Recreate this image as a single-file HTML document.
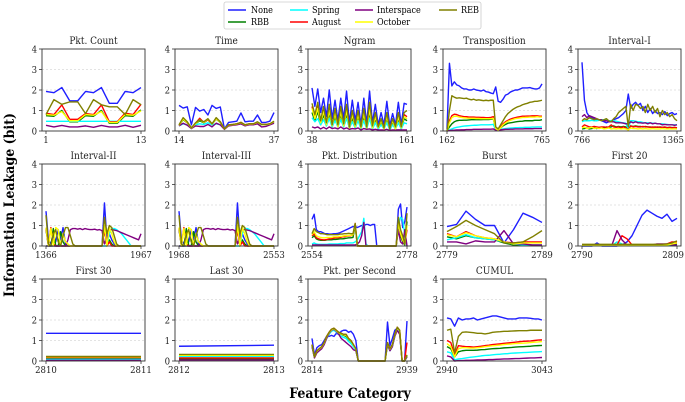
<!DOCTYPE html>
<html><head><meta charset="utf-8">
<style>
html,body{margin:0;padding:0;background:#fff;}
svg{display:block;font-family:"DejaVu Serif Condensed","DejaVu Serif","Liberation Serif",serif;}
</style></head>
<body>
<svg id="chart" width="685" height="402" viewBox="0 0 685 402" xmlns="http://www.w3.org/2000/svg">
  <g>
    <rect x="224" y="2" width="257" height="27" fill="#fff" stroke="#ccc" stroke-width="0.8" rx="2"/>
    <g><line x1="228" y1="10" x2="246" y2="10" stroke="#1f1fff" stroke-width="1.5"/><text x="251" y="13" font-size="9">None</text></g>
    <g><line x1="228" y1="22" x2="246" y2="22" stroke="#008000" stroke-width="1.5"/><text x="251" y="25" font-size="9">RBB</text></g>
    <g><line x1="290" y1="10" x2="308" y2="10" stroke="#00ffff" stroke-width="1.5"/><text x="312" y="13" font-size="9">Spring</text></g>
    <g><line x1="290" y1="22" x2="308" y2="22" stroke="#ff0000" stroke-width="1.5"/><text x="312" y="25" font-size="9">August</text></g>
    <g><line x1="355" y1="10" x2="373" y2="10" stroke="#800080" stroke-width="1.5"/><text x="377" y="13" font-size="9">Interspace</text></g>
    <g><line x1="355" y1="22" x2="373" y2="22" stroke="#ffff00" stroke-width="1.5"/><text x="377" y="25" font-size="9">October</text></g>
    <g><line x1="439" y1="10" x2="457" y2="10" stroke="#808000" stroke-width="1.5"/><text x="461" y="13" font-size="9">REB</text></g>
  </g>
  <text transform="translate(14,205) rotate(-90)" text-anchor="middle" font-size="14" font-weight="bold">Information Leakage (bit)</text>
  <text x="350" y="398" text-anchor="middle" font-size="14" font-weight="bold">Feature Category</text>
  <g id="panels"></g>
</svg>
<script>
const seriesNames = ["None","RBB","Spring","August","Interspace","October","REB"];
const seriesColors = ["#1f1fff","#008000","#00ffff","#ff0000","#800080","#ffff00","#808000"];
const panelTitles = ["Pkt. Count","Time","Ngram","Transposition","Interval-I","Interval-II","Interval-III","Pkt. Distribution","Burst","First 20","First 30","Last 30","Pkt. per Second","CUMUL"];
const panelXMin = [1,14,38,162,766,1366,1968,2554,2779,2790,2810,2812,2814,2940];
const panelXMax = [13,37,161,765,1365,1967,2553,2778,2789,2809,2811,2813,2939,3043];
const yTicks = [0,1,2,3,4];

const pktCount = {
 None:[1.93,1.87,2.12,1.47,1.47,1.93,1.87,2.12,1.35,1.35,1.93,1.87,2.12],
 RBB:[0.75,0.72,1.0,0.45,0.45,0.75,0.72,1.0,0.38,0.38,0.75,0.72,1.03],
 Spring:[0.47,0.47,0.47,0.47,0.47,0.47,0.47,0.47,0.47,0.47,0.47,0.47,0.47],
 August:[0.87,0.8,1.27,0.57,0.57,0.85,0.8,1.27,0.45,0.45,0.87,0.8,1.3],
 Interspace:[0.28,0.2,0.27,0.2,0.2,0.25,0.18,0.27,0.2,0.2,0.28,0.18,0.28],
 October:[0.8,0.77,0.95,0.5,0.5,0.8,0.77,0.95,0.42,0.42,0.8,0.77,0.98],
 REB:[0.8,1.53,1.3,1.42,1.42,0.85,1.53,1.28,1.18,1.18,0.8,1.53,1.28]};
const timeF = {
 None:[1.25,1.12,1.18,0.3,1.15,0.97,1.05,0.78,1.25,1.1,1.17,0.1,0.42,0.45,0.48,0.88,0.45,0.48,0.48,0.78,0.42,0.42,0.48,0.9],
 RBB:[0.28,0.55,0.4,0.13,0.35,0.5,0.4,0.55,0.33,0.58,0.42,0.1,0.28,0.3,0.33,0.4,0.28,0.33,0.33,0.42,0.3,0.3,0.33,0.45],
 Spring:[0.25,0.35,0.3,0.12,0.3,0.35,0.32,0.4,0.3,0.35,0.3,0.1,0.28,0.3,0.32,0.38,0.3,0.32,0.32,0.38,0.3,0.3,0.32,0.4],
 August:[0.28,0.6,0.4,0.15,0.38,0.62,0.42,0.55,0.35,0.6,0.45,0.1,0.3,0.32,0.35,0.42,0.3,0.35,0.35,0.42,0.32,0.32,0.35,0.45],
 Interspace:[0.25,0.38,0.28,0.12,0.25,0.22,0.22,0.32,0.2,0.38,0.3,0.08,0.25,0.28,0.3,0.35,0.25,0.3,0.3,0.35,0.2,0.22,0.3,0.38],
 October:[0.28,0.58,0.42,0.14,0.36,0.55,0.42,0.58,0.34,0.6,0.43,0.1,0.29,0.31,0.34,0.41,0.29,0.34,0.34,0.43,0.31,0.31,0.34,0.46],
 REB:[0.3,0.65,0.45,0.15,0.4,0.55,0.45,0.6,0.35,0.65,0.45,0.1,0.3,0.32,0.35,0.42,0.3,0.35,0.35,0.45,0.32,0.32,0.35,0.48]};
const ngram = {
 None:[2.1,1.2,2.05,0.9,1.6,0.7,2.0,0.6,1.5,0.5,1.6,0.6,1.95,0.4,1.5,0.5,1.4,0.3,1.6,0.35,1.95,0.4,1.3,0.3,0.9,0.3,1.45,0.25,0.85,0.3,1.4,0.3,1.35,1.3],
 RBB:[0.9,0.5,0.95,0.3,0.8,0.25,0.85,0.2,0.7,0.2,0.8,0.2,0.85,0.1,0.65,0.15,0.7,0.1,0.7,0.1,0.9,0.1,0.6,0.1,0.4,0.1,0.6,0.05,0.4,0.1,0.6,0.1,0.6,0.5],
 Spring:[0.65,0.45,0.6,0.3,0.55,0.25,0.6,0.2,0.5,0.2,0.55,0.2,0.6,0.15,0.45,0.15,0.5,0.1,0.5,0.1,0.6,0.1,0.4,0.1,0.3,0.1,0.4,0.05,0.3,0.1,0.4,0.1,0.4,0.35],
 August:[1.2,0.7,1.25,0.45,1.05,0.35,1.15,0.3,0.95,0.25,1.05,0.3,1.15,0.2,0.9,0.25,0.9,0.2,0.95,0.2,1.2,0.2,0.8,0.2,0.55,0.15,0.8,0.1,0.55,0.15,0.8,0.2,0.8,0.7],
 Interspace:[0.2,0.15,0.2,0.1,0.18,0.1,0.2,0.12,0.15,0.1,0.2,0.1,0.15,0.08,0.12,0.1,0.15,0.05,0.12,0.08,0.1,0.05,0.08,0.05,0.05,0.05,0.08,0.03,0.05,0.05,0.06,0.05,0.05,0.05],
 October:[1.1,0.6,1.1,0.4,0.95,0.3,1.0,0.25,0.85,0.2,0.95,0.25,1.0,0.15,0.8,0.2,0.8,0.15,0.85,0.15,1.05,0.15,0.7,0.15,0.5,0.1,0.7,0.1,0.5,0.1,0.7,0.15,0.7,0.6],
 REB:[1.35,0.8,1.4,0.5,1.2,0.4,1.3,0.3,1.1,0.3,1.2,0.35,1.3,0.2,1.0,0.3,1.0,0.2,1.1,0.2,1.4,0.25,0.9,0.2,0.6,0.15,0.9,0.1,0.6,0.2,0.9,0.2,0.9,1.0]};
const transposition = {
 None:[0.1,3.3,2.2,2.4,2.25,2.2,2.1,2.05,2.05,2.0,2.0,2.05,2.0,1.98,1.95,2.0,1.92,1.9,1.85,1.82,2.15,1.45,1.4,1.55,1.75,1.8,1.9,1.95,2.0,2.0,2.05,2.1,2.1,2.1,2.12,2.08,2.05,2.05,2.1,2.3],
 RBB:[0,0.2,0.35,0.45,0.5,0.52,0.52,0.53,0.53,0.54,0.55,0.55,0.55,0.55,0.55,0.56,0.56,0.56,0.57,0.6,0.1,0.05,0.15,0.25,0.32,0.38,0.4,0.42,0.44,0.46,0.47,0.48,0.5,0.5,0.5,0.5,0.52,0.52,0.52,0.55],
 Spring:[0,0.05,0.1,0.15,0.18,0.2,0.22,0.24,0.25,0.26,0.27,0.28,0.28,0.29,0.3,0.3,0.3,0.3,0.31,0.32,0.05,0.05,0.08,0.1,0.12,0.13,0.14,0.15,0.16,0.16,0.17,0.17,0.18,0.18,0.18,0.19,0.19,0.2,0.2,0.2],
 August:[0,0.5,0.75,0.82,0.8,0.75,0.72,0.7,0.7,0.68,0.68,0.68,0.67,0.67,0.66,0.66,0.65,0.65,0.66,0.7,0.15,0.05,0.2,0.35,0.45,0.52,0.58,0.62,0.65,0.68,0.7,0.72,0.72,0.73,0.73,0.74,0.74,0.74,0.72,0.72],
 Interspace:[0,0.02,0.03,0.04,0.05,0.05,0.06,0.06,0.07,0.07,0.07,0.08,0.08,0.08,0.08,0.09,0.09,0.09,0.09,0.1,0.05,0.05,0.06,0.07,0.08,0.08,0.09,0.09,0.1,0.1,0.1,0.1,0.11,0.11,0.11,0.11,0.12,0.12,0.12,0.12],
 October:[0,0.4,0.65,0.72,0.72,0.68,0.66,0.64,0.63,0.62,0.62,0.62,0.61,0.61,0.6,0.6,0.6,0.6,0.6,0.62,0.12,0.05,0.15,0.3,0.4,0.47,0.52,0.56,0.6,0.62,0.64,0.66,0.66,0.67,0.68,0.68,0.68,0.7,0.68,0.68],
 REB:[0,1.0,1.72,1.65,1.6,1.62,1.6,1.58,1.6,1.55,1.52,1.55,1.5,1.52,1.5,1.48,1.5,1.48,1.5,1.5,0.2,0.1,0.3,0.5,0.7,0.85,0.95,1.05,1.12,1.18,1.22,1.28,1.32,1.35,1.4,1.42,1.45,1.45,1.47,1.5]};
const intervalI = {
 None:[3.35,1.5,0.9,0.7,0.65,0.6,0.55,0.55,0.5,0.45,0.4,0.45,0.5,0.55,0.6,0.65,0.75,0.85,1.0,1.8,1.1,1.3,1.4,1.25,1.35,1.0,1.2,0.9,1.1,0.85,1.0,0.85,0.9,0.8,0.95,0.75,0.85,0.9,0.8,0.85],
 RBB:[0.1,0.12,0.15,0.1,0.12,0.15,0.12,0.15,0.18,0.15,0.2,0.18,0.2,0.25,0.2,0.22,0.2,0.22,0.2,0.05,0.25,0.22,0.25,0.22,0.22,0.2,0.22,0.2,0.2,0.18,0.2,0.18,0.2,0.18,0.18,0.17,0.18,0.17,0.17,0.16],
 Spring:[0.45,0.5,0.5,0.5,0.52,0.5,0.5,0.52,0.55,0.55,0.52,0.5,0.5,0.5,0.48,0.45,0.42,0.4,0.38,0.1,0.5,0.5,0.48,0.45,0.45,0.42,0.4,0.4,0.4,0.38,0.38,0.35,0.35,0.35,0.33,0.32,0.3,0.3,0.3,0.3],
 August:[0.2,0.3,0.25,0.2,0.2,0.22,0.2,0.18,0.2,0.2,0.18,0.2,0.3,0.2,0.18,0.2,0.15,0.2,0.15,0.05,0.25,0.2,0.22,0.2,0.2,0.22,0.2,0.2,0.18,0.2,0.18,0.2,0.18,0.18,0.2,0.15,0.18,0.15,0.18,0.15],
 Interspace:[0.7,0.8,0.65,0.75,0.7,0.65,0.6,0.55,0.55,0.5,0.5,0.45,0.45,0.45,0.4,0.4,0.4,0.38,0.35,0.35,0.45,0.4,0.45,0.4,0.4,0.38,0.4,0.35,0.4,0.35,0.38,0.35,0.35,0.3,0.32,0.3,0.3,0.3,0.28,0.3],
 October:[0.15,0.2,0.12,0.15,0.18,0.12,0.15,0.12,0.15,0.1,0.12,0.15,0.1,0.12,0.1,0.12,0.1,0.12,0.1,0.05,0.15,0.12,0.12,0.1,0.12,0.1,0.12,0.1,0.1,0.12,0.1,0.1,0.1,0.12,0.1,0.1,0.1,0.1,0.1,0.1],
 REB:[0.5,0.6,0.55,0.65,0.6,0.55,0.6,0.55,0.5,0.55,0.6,0.5,0.45,0.6,0.7,0.9,1.0,1.1,1.2,0.2,1.3,1.0,1.3,1.25,1.1,1.2,0.9,1.3,1.0,1.2,0.9,1.1,0.7,1.0,0.8,0.9,0.7,0.8,0.6,0.5]};
const intervalII = {
 None:[1.7,0.3,0.1,0.5,0.2,0.8,0.3,0.9,0.1,0,0,0,0,0,0,0,0,0,0,0,0,0,0,0,2.1,0.3,0.6,0.3,0.1,0,0,0,0,0,0,0,0,0,0,0],
 RBB:[0.8,0,0,0.85,0,0,0.7,0.2,0,0,0,0,0,0,0,0,0,0,0,0,0,0,0,0,0.9,0,0.3,0.1,0,0,0,0,0,0,0,0,0,0,0,0],
 Spring:[0,0,0,0,0,0,0,0,0,0,0,0,0,0,0,0,0,0,0,0,0,0,0,0,0,0,0.6,0.85,0.85,0.8,0.7,0.6,0.45,0.3,0.15,0,0,0,0,0],
 August:[0.85,0,0.9,0.1,0,0,0,0,0,0,0,0,0,0,0,0,0,0,0,0,0,0,0,0,0.8,0,0.2,0,0,0,0,0,0,0,0,0,0,0,0,0],
 Interspace:[0,0,0,0,0,0,0,0,0,0.3,0.8,0.85,0.85,0.82,0.85,0.8,0.85,0.82,0.8,0.8,0.82,0.78,0.8,0.75,0.1,0.4,0.8,0.8,0.78,0.75,0.7,0.65,0.6,0.55,0.5,0.45,0.4,0.35,0.3,0.6],
 October:[0.9,0,0.85,0,0.9,0.8,0,0.6,0.2,0.1,0,0,0,0,0,0,0,0,0,0,0,0,0,0,1.0,0,0.9,0.6,0.2,0,0,0,0,0,0,0,0,0,0,0],
 REB:[1.5,0.1,0,0.6,0.8,0.2,0,0.5,0.9,0.9,0.5,0.1,0,0,0,0,0,0,0,0,0,0,0,0,1.4,0.6,1.0,0.9,0.5,0.1,0,0,0,0,0,0,0,0,0,0]};
const intervalIII = {
 None:[1.7,0.3,0.1,0.5,0.2,0.8,0.3,0.9,0.1,0,0,0,0,0,0,0,0,0,0,0,0,0,0,0,2.1,0.3,0.6,0.3,0.1,0,0,0,0,0,0,0,0,0,0,0],
 RBB:[0.8,0,0,0.85,0,0,0.7,0.2,0,0,0,0,0,0,0,0,0,0,0,0,0,0,0,0,0.9,0,0.3,0.1,0,0,0,0,0,0,0,0,0,0,0,0],
 Spring:[0,0,0,0,0,0,0,0,0,0,0,0,0,0,0,0,0,0,0,0,0,0,0,0,0,0,0.6,0.85,0.85,0.8,0.7,0.6,0.45,0.3,0.15,0,0,0,0,0],
 August:[0.85,0,0.9,0.1,0,0,0,0,0,0,0,0,0,0,0,0,0,0,0,0,0,0,0,0,0.8,0,0.2,0,0,0,0,0,0,0,0,0,0,0,0,0],
 Interspace:[0,0,0,0,0,0,0,0,0,0.3,0.8,0.85,0.85,0.82,0.85,0.8,0.85,0.82,0.8,0.8,0.82,0.78,0.8,0.75,0.1,0.4,0.8,0.8,0.78,0.75,0.7,0.65,0.6,0.55,0.5,0.45,0.4,0.35,0.3,0.6],
 October:[0.9,0,0.85,0,0.9,0.8,0,0.6,0.2,0.1,0,0,0,0,0,0,0,0,0,0,0,0,0,0,1.0,0,0.9,0.6,0.2,0,0,0,0,0,0,0,0,0,0,0],
 REB:[1.5,0.1,0,0.6,0.8,0.2,0,0.5,0.9,0.9,0.5,0.1,0,0,0,0,0,0,0,0,0,0,0,0,1.4,0.6,1.0,0.9,0.5,0.1,0,0,0,0,0,0,0,0,0,0]};
const pktDist = {
 None:[1.3,1.55,0.8,0.7,0.7,0.65,0.6,0.6,0.58,0.58,0.6,0.6,0.62,0.65,0.7,0.75,0.8,0.85,0.9,0.95,0.95,0.9,0.95,1.0,1.0,1.05,1.05,1.0,1.05,1.05,0,0,0,0,0,0,0,0,0,0,1.8,2.05,0.9,1.2,1.9],
 RBB:[0.4,0.5,0.35,0.3,0.28,0.28,0.28,0.3,0.3,0.3,0.32,0.32,0.33,0.35,0.35,0.36,0.38,0.4,0.4,0.42,1.0,0,0,0,0,0,0,0,0,0,0,0,0,0,0,0,0,0,0,0,1.0,0.5,0.2,0.05,1.2],
 Spring:[0.1,0.15,0.1,0.08,0.08,0.08,0.08,0.08,0.1,0.1,0.1,0.1,0.1,0.12,0.12,0.12,0.15,0.15,0.15,0.15,0.2,0.3,0.5,0.7,1.35,0.1,0,0,0,0,0,0,0,0,0,0,0,0,0,0,1.0,1.4,1.3,0.5,0],
 August:[0.5,0.6,0.4,0.35,0.32,0.3,0.3,0.32,0.35,0.35,0.38,0.4,0.4,0.42,0.45,0.45,0.48,0.5,0.5,0.55,1.1,0,0,0,0,0,0,0,0,0,0,0,0,0,0,0,0,0,0,0,1.2,0.6,0.3,0.1,0.8],
 Interspace:[0.05,0.05,0.05,0.05,0.05,0.05,0.05,0.05,0.05,0.05,0.05,0.05,0.05,0.05,0.05,0.05,0.05,0.05,0.05,0.05,0.05,0.1,0.2,0.5,1.15,0,0,0,0,0,0,0,0,0,0,0,0,0,0,0,0.8,0.2,0.1,0.8,0],
 October:[0.55,0.7,0.5,0.45,0.42,0.4,0.4,0.42,0.42,0.42,0.45,0.45,0.45,0.47,0.48,0.5,0.5,0.52,0.52,0.55,1.05,0,0,0,0,0,0,0,0,0,0,0,0,0,0,0,0,0,0,0,1.1,0.6,0.3,0.1,1.0],
 REB:[0.6,0.85,0.7,0.65,0.6,0.6,0.58,0.55,0.55,0.55,0.55,0.55,0.55,0.58,0.58,0.6,0.6,0.62,0.6,0.6,1.1,0.05,0,0,0,0,0,0,0,0,0,0,0,0,0,0,0,0,0,0,1.4,0.8,0.5,0.1,1.6]};
const burst = {
 None:[0.95,1.05,1.7,1.3,1.0,1.0,0.15,0.8,1.6,1.4,1.15],
 RBB:[0.45,0.35,0.5,0.4,0.35,0.3,0.15,0.05,0.05,0.02,0.02],
 Spring:[0.3,0.4,0.55,0.4,0.35,0.3,0.2,0.1,0.05,0.05,0.05],
 August:[0.6,0.45,0.7,0.5,0.4,0.35,0.2,0.15,0.2,0.2,0.2],
 Interspace:[0.2,0.2,0.1,0.25,0.2,0.2,0.75,0.1,0.1,0.05,0.05],
 October:[0.55,0.45,0.65,0.5,0.4,0.35,0.2,0.1,0.15,0.15,0.15],
 REB:[0.7,0.95,1.25,1.0,0.8,0.6,0.15,0.15,0.2,0.45,0.75]};
const first20 = {
 None:[0,0,0,0.15,0,0,0,0,0.05,0.2,0.5,1.0,1.5,1.75,1.6,1.45,1.35,1.55,1.2,1.35],
 RBB:[0.05,0.05,0.05,0.05,0.05,0.05,0.05,0.05,0.05,0.05,0.05,0.05,0.05,0.05,0.05,0.05,0.05,0.05,0.05,0.1],
 Spring:[0.02,0.02,0.02,0.02,0.02,0.02,0.02,0.2,0.1,0.02,0.02,0.02,0.02,0.02,0.02,0.02,0.02,0.02,0.02,0.02],
 August:[0.05,0.05,0.05,0.05,0.05,0.05,0.05,0.05,0.5,0.35,0.05,0.05,0.05,0.05,0.05,0.05,0.05,0.1,0.2,0.2],
 Interspace:[0.05,0.05,0.05,0.05,0.05,0.05,0.05,0.75,0.3,0.05,0.05,0.05,0.05,0.05,0.05,0.1,0.1,0.1,0.05,0.05],
 October:[0.05,0.05,0.05,0.05,0.05,0.05,0.05,0.05,0.05,0.05,0.05,0.05,0.05,0.05,0.05,0.05,0.05,0.05,0.1,0.15],
 REB:[0.08,0.08,0.08,0.08,0.08,0.08,0.08,0.08,0.08,0.08,0.08,0.08,0.08,0.08,0.08,0.08,0.08,0.1,0.15,0.25]};
const first30 = {
 None:[1.35,1.35], RBB:[0.12,0.12], Spring:[0.08,0.08], August:[0.17,0.17],
 Interspace:[0.03,0.03], October:[0.2,0.2], REB:[0.22,0.22]};
const last30 = {
 None:[0.72,0.77], RBB:[0.1,0.1], Spring:[0.22,0.22], August:[0.15,0.15],
 Interspace:[0.05,0.05], October:[0.28,0.28], REB:[0.32,0.32]};
const pktPerSec = {
 None:[1.1,0.3,0.65,0.75,0.8,1.0,1.2,1.2,1.25,1.2,1.35,1.3,1.45,1.5,1.5,1.4,1.45,1.3,1.0,0,0,0,0,0,0,0,0,0,0,0,0,1.9,0.75,1.1,1.5,1.6,1.3,0,0,1.95],
 RBB:[0.75,0.2,0.45,0.55,0.65,0.85,1.15,1.35,1.5,1.55,1.45,1.35,1.3,1.25,1.2,1.05,0.95,0.75,0.55,0,0,0,0,0,0,0,0,0,0,0,0,0.85,0.55,0.75,1.25,1.6,1.45,0,0,0.25],
 Spring:[0.7,0.18,0.42,0.52,0.62,0.82,1.1,1.3,1.45,1.5,1.4,1.3,1.2,1.15,1.1,0.95,0.85,0.7,0.5,0,0,0,0,0,0,0,0,0,0,0,0,0.8,0.5,0.7,1.2,1.55,1.4,0,0,0.2],
 August:[0.8,0.22,0.5,0.6,0.7,0.9,1.2,1.4,1.55,1.6,1.5,1.4,1.35,1.3,1.3,1.1,1.0,0.8,0.6,0,0,0,0,0,0,0,0,0,0,0,0,0.9,0.6,0.8,1.3,1.65,1.5,0,0,0.9],
 Interspace:[0.7,0.15,0.4,0.5,0.6,0.8,1.1,1.35,1.5,1.55,1.45,1.3,1.1,1.0,0.9,0.8,0.7,0.55,0.5,0,0,0,0,0,0,0,0,0,0,0,0,0.8,0.5,0.7,1.2,1.5,1.3,0,0,0.2],
 October:[0.78,0.2,0.48,0.58,0.68,0.88,1.18,1.38,1.52,1.58,1.48,1.38,1.32,1.28,1.25,1.08,0.98,0.78,0.58,0,0,0,0,0,0,0,0,0,0,0,0,0.88,0.58,0.78,1.28,1.62,1.48,0,0,0.3],
 REB:[0.8,0.2,0.5,0.6,0.7,0.9,1.2,1.4,1.55,1.6,1.5,1.4,1.35,1.3,1.3,1.1,1.0,0.8,0.6,0,0,0,0,0,0,0,0,0,0,0,0,0.9,0.6,0.8,1.3,1.65,1.5,0,0,0.3]};
const cumul = {
 None:[2.1,2.05,1.7,2.1,2.0,2.05,2.05,2.1,2.0,2.05,2.1,2.15,2.2,2.2,2.15,2.1,2.05,2.05,2.05,2.1,2.1,2.1,2.08,2.05,2.05,2.0],
 RBB:[0.7,0.6,0.2,0.45,0.5,0.52,0.52,0.52,0.53,0.55,0.56,0.58,0.6,0.61,0.62,0.64,0.65,0.66,0.68,0.69,0.7,0.71,0.72,0.74,0.75,0.76],
 Spring:[0.45,0.4,0.05,0.1,0.12,0.15,0.18,0.2,0.22,0.25,0.27,0.28,0.3,0.32,0.33,0.35,0.36,0.38,0.39,0.4,0.41,0.42,0.43,0.44,0.45,0.46],
 August:[1.0,0.9,0.3,0.75,0.72,0.7,0.7,0.68,0.7,0.72,0.75,0.77,0.8,0.82,0.84,0.86,0.88,0.9,0.92,0.94,0.96,0.97,0.98,1.0,1.02,1.03],
 Interspace:[0.25,0.2,0,0.02,0.02,0.03,0.03,0.04,0.05,0.05,0.06,0.07,0.07,0.08,0.09,0.1,0.1,0.11,0.12,0.12,0.13,0.14,0.15,0.15,0.16,0.17],
 October:[0.85,0.7,0.2,0.6,0.65,0.65,0.63,0.63,0.65,0.67,0.7,0.72,0.74,0.76,0.78,0.8,0.82,0.83,0.85,0.86,0.87,0.88,0.9,0.92,0.93,0.95],
 REB:[1.5,1.55,0.4,1.2,1.4,1.42,1.4,1.38,1.35,1.35,1.32,1.35,1.4,1.42,1.43,1.45,1.45,1.46,1.47,1.48,1.48,1.48,1.5,1.5,1.5,1.5]};

const panelData = [pktCount,timeF,ngram,transposition,intervalI,intervalII,intervalIII,pktDist,burst,first20,first30,last30,pktPerSec,cumul];

const NS = "http://www.w3.org/2000/svg";
const colLefts = [42,175,308,443,578];
const rowTops = [49,164,279];
const PW = 103, PH = 82, YMAX = 4;

function mk(tag, attrs, parent){
  const e = document.createElementNS(NS, tag);
  for (const k in attrs) e.setAttribute(k, attrs[k]);
  parent.appendChild(e);
  return e;
}
function slug(s){ return s.toLowerCase().replace(/[^a-z0-9]+/g,'-').replace(/^-|-$/g,''); }

const root = document.getElementById('panels');
panelTitles.forEach((title, p) => {
  const left = colLefts[p % 5], top = rowTops[Math.floor(p / 5)];
  const xmin = panelXMin[p], xmax = panelXMax[p];
  const yScale = v => top + PH - (v / YMAX) * PH;
  const g = mk('g', {}, root);
  
  
  [1,2,3].forEach(t => {
    const gl = mk('line', {x1:left, x2:left+PW, y1:yScale(t), y2:yScale(t), stroke:'#c8c8c8', 'stroke-width':0.6, 'stroke-dasharray':'2,2'}, g);
    
    
  });
  const data = panelData[p];
  seriesNames.forEach((s, si) => {
    const vals = data[s];
    const n = vals.length;
    const xScale = i => left + 4 + (n === 1 ? 0 : i / (n - 1)) * (PW - 8);
    const pts = vals.map((v, i) => xScale(i).toFixed(2) + ',' + yScale(v).toFixed(2)).join(' ');
    const pl = mk('polyline', {points: pts, fill:'none', stroke: seriesColors[si], 'stroke-width':1.4, 'stroke-linejoin':'round'}, g);
    
    
  });
  const fr = mk('rect', {x:left, y:top, width:PW, height:PH, fill:'none', stroke:'#333', 'stroke-width':0.9}, g);
  
  
  yTicks.forEach(t => {
    mk('line', {x1:left-3, x2:left, y1:yScale(t), y2:yScale(t), stroke:'#333', 'stroke-width':0.8}, g);
    const tl = mk('text', {x:left-5, y:yScale(t)+3.5, 'text-anchor':'end', 'font-size':9.5, fill:'#222'}, g);
    tl.textContent = t;
    
    
  });
  [[xmin, left+4],[xmax, left+PW-4]].forEach(([lab, x]) => {
    mk('line', {x1:x, x2:x, y1:top+PH, y2:top+PH+3, stroke:'#333', 'stroke-width':0.8}, g);
    const tl = mk('text', {x:x, y:top+PH+12, 'text-anchor':'middle', 'font-size':9.5, fill:'#222'}, g);
    tl.textContent = lab;
    
    
    const bb = tl.getBBox();
    if (bb.x + bb.width > 684) { tl.setAttribute('text-anchor', 'end'); tl.setAttribute('x', 684); }
  });
  const tt = mk('text', {x:left+PW/2, y:top-5, 'text-anchor':'middle', 'font-size':10, fill:'#222'}, g);
  tt.textContent = title;
  
  
});
</script>
</body></html>
